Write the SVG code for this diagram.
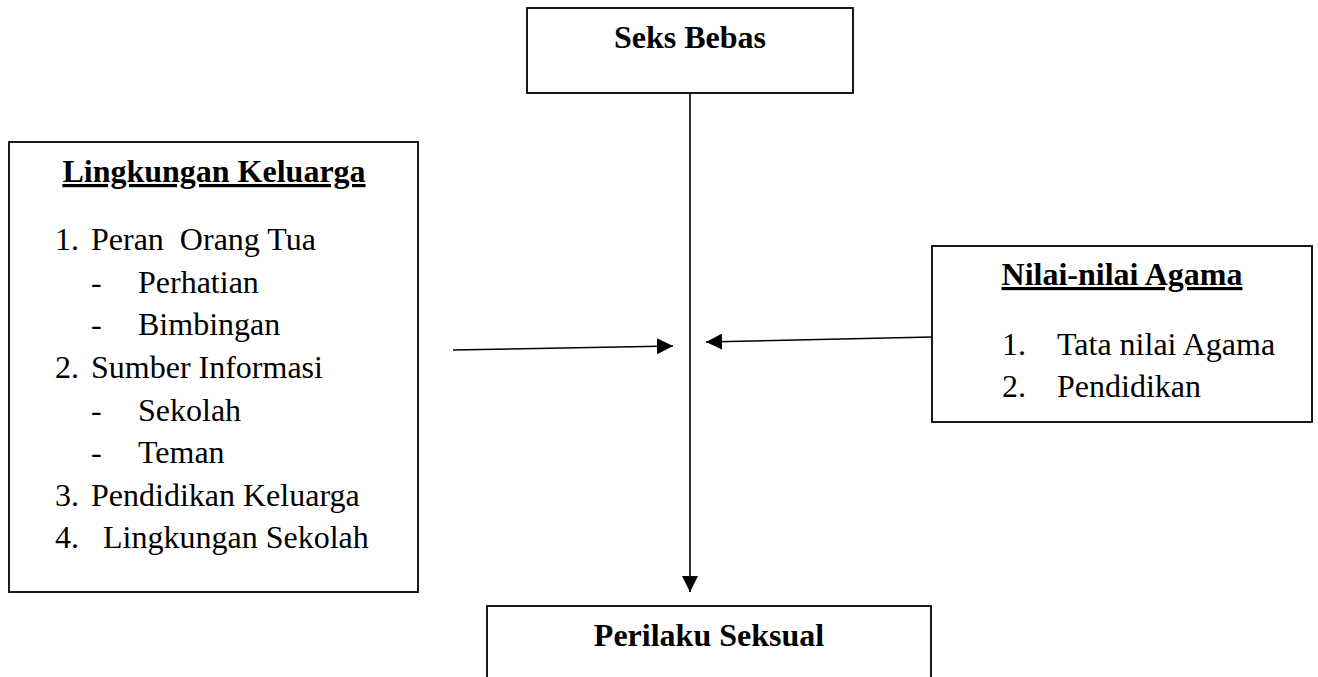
<svg xmlns="http://www.w3.org/2000/svg" width="1318" height="677" viewBox="0 0 1318 677">
<style>
.box{fill:#fff;stroke:#000;stroke-width:1.8}
.t{font-family:"Liberation Serif","Times New Roman",serif;font-size:32px;fill:#000}
.b{font-weight:bold}
.u{text-decoration:underline}
.ln{stroke:#000;stroke-width:1.6;fill:none}
</style>
<defs>
<marker id="ah" viewBox="0 0 10 10" refX="10" refY="5" markerWidth="16" markerHeight="16" markerUnits="userSpaceOnUse" orient="auto">
<path d="M0,0 L10,5 L0,10 Z" fill="#000"/>
</marker>
</defs>
<rect width="1318" height="677" fill="#fff"/>
<g id="seks-bebas">
<rect class="box" x="527" y="8" width="326" height="85"/>
<text class="t b" x="690" y="48" text-anchor="middle">Seks Bebas</text>
</g>
<g id="lingkungan-keluarga">
<rect class="box" x="9" y="142" width="409" height="450"/>
<text class="t b u" x="214" y="182" text-anchor="middle">Lingkungan Keluarga</text>
<text class="t" x="55" y="250">1.</text><text class="t" x="91" y="250" xml:space="preserve">Peran  Orang Tua</text>
<text class="t" x="91" y="293">-</text><text class="t" x="138" y="293">Perhatian</text>
<text class="t" x="91" y="335">-</text><text class="t" x="138" y="335">Bimbingan</text>
<text class="t" x="55" y="378">2.</text><text class="t" x="91" y="378">Sumber Informasi</text>
<text class="t" x="91" y="421">-</text><text class="t" x="138" y="421">Sekolah</text>
<text class="t" x="91" y="463">-</text><text class="t" x="138" y="463">Teman</text>
<text class="t" x="55" y="506">3.</text><text class="t" x="91" y="506">Pendidikan Keluarga</text>
<text class="t" x="55" y="548">4.</text><text class="t" x="103" y="548">Lingkungan Sekolah</text>
</g>
<g id="nilai-agama">
<rect class="box" x="932" y="246" width="380" height="176"/>
<text class="t b u" x="1122" y="285" text-anchor="middle">Nilai-nilai Agama</text>
<text class="t" x="1002" y="355">1.</text><text class="t" x="1057" y="355">Tata nilai Agama</text>
<text class="t" x="1002" y="397">2.</text><text class="t" x="1057" y="397">Pendidikan</text>
</g>
<g id="perilaku-seksual">
<rect class="box" x="487" y="606" width="444" height="100"/>
<text class="t b" x="709" y="646" text-anchor="middle">Perilaku Seksual</text>
</g>
<g id="connectors">
<line class="ln" x1="690" y1="93" x2="690" y2="592" marker-end="url(#ah)"/>
<line class="ln" x1="453" y1="350" x2="673" y2="346" marker-end="url(#ah)"/>
<line class="ln" x1="932" y1="337" x2="706" y2="342" marker-end="url(#ah)"/>
</g>
</svg>
